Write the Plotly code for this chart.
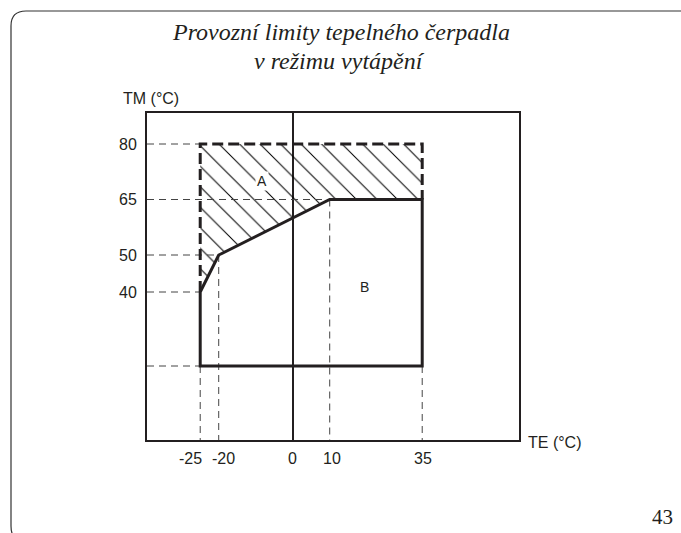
import plotly.graph_objects as go

# ---------------- data ----------------
title_lines = ["Provozní limity tepelného čerpadla", "v režimu vytápění"]
x_title = "TE (°C)"
y_title = "TM (°C)"
page_number = "43"

# envelope B (operating limit, solid)
b_te = [-25, -25, 35, 35, 10, -20, -25]
b_tm = [40, 20, 20, 65, 65, 50, 40]
# extended limit A (dashed)
a_te = [-25, -25, 35, 35]
a_tm = [40, 80, 80, 65]
# hatched zone A polygon
h_te = [-25, -25, 35, 35, 10, -20, -25]
h_tm = [40, 80, 80, 65, 65, 50, 40]

# guide points (horizontal guides to the TM axis, vertical guides to the TE axis)
hguide_te = [-25, 10, -20, -25, -25]
hguide_tm = [80, 65, 50, 40, 20]
vguide_te = [-25, -20, 10, 35]
vguide_tm = [20, 50, 65, 20]

y_ticks = [40, 50, 65, 80]
x_ticks = [-25, -20, 0, 10, 35]
x_tick_labels = ["-25", "-20", "0", "10", "35"]

zone_labels = ["A", "B"]
zone_te = [-8.3, 19.3]
zone_tm = [69.9, 41.3]

# ---------------- layout constants ----------------
W, H = 681, 533
L, R, T, B = 147, 162, 113, 93
X_RANGE = [-39.38, 61.16]
Y_RANGE = [0.0, 88.38]
INK = "#231f20"
SANS = "Liberation Sans, Arial, sans-serif"
SERIF = "Liberation Serif, Times New Roman, serif"
tick_label_shift = {"-25": -10, "-20": 5, "0": 0, "10": 2, "35": 1}


def px(xp):
    return (xp - L) / (W - L - R)


def py(yp):
    return (H - B - yp) / (H - B - T)


fig = go.Figure()

# hatched zone
fig.add_trace(go.Scatter(
    x=h_te, y=h_tm, mode="lines", fill="toself", line=dict(width=0),
    fillcolor="rgba(0,0,0,0)",
    fillpattern=dict(shape="\\", size=14.5, solidity=0.07, fgcolor="#000000",
                     fgopacity=1, bgcolor="rgba(0,0,0,0)"),
    hoverinfo="skip", showlegend=False))

# thin dashed guides
for te, tm in zip(hguide_te, hguide_tm):
    fig.add_trace(go.Scatter(x=[X_RANGE[0], te], y=[tm, tm], mode="lines",
                             line=dict(color="#444", width=1, dash="7px,5px"),
                             hoverinfo="skip", showlegend=False))
for te, tm in zip(vguide_te, vguide_tm):
    fig.add_trace(go.Scatter(x=[te, te], y=[tm, Y_RANGE[0]], mode="lines",
                             line=dict(color="#444", width=1, dash="7px,5px"),
                             hoverinfo="skip", showlegend=False))

# zone A dashed boundary
fig.add_trace(go.Scatter(x=a_te, y=a_tm, mode="lines",
                         line=dict(color=INK, width=3, dash="11px,5px"),
                         hoverinfo="skip", showlegend=False))
# zone B solid boundary
fig.add_trace(go.Scatter(x=b_te, y=b_tm, mode="lines",
                         line=dict(color=INK, width=3),
                         hoverinfo="skip", showlegend=False))

annotations = []
# zone labels
for lab, te, tm in zip(zone_labels, zone_te, zone_tm):
    annotations.append(dict(x=te, y=tm, xref="x", yref="y", text=lab, showarrow=False,
                            font=dict(family=SANS, size=14, color=INK),
                            bgcolor="white" if lab == "A" else None, borderpad=1))
# x tick labels
for te, lab in zip(x_ticks, x_tick_labels):
    annotations.append(dict(x=te, y=py(448), xref="x", yref="paper", text=lab,
                            showarrow=False, xanchor="center", yanchor="top",
                            xshift=tick_label_shift[lab],
                            font=dict(family=SANS, size=16, color=INK)))
# axis titles
annotations.append(dict(x=px(121), y=py(99), xref="paper", yref="paper", text=y_title,
                        showarrow=False, xanchor="left", yanchor="middle",
                        font=dict(family=SANS, size=16, color=INK)))
annotations.append(dict(x=px(526), y=py(442), xref="paper", yref="paper", text=x_title,
                        showarrow=False, xanchor="left", yanchor="middle",
                        font=dict(family=SANS, size=16, color=INK)))
# title lines
annotations.append(dict(x=px(341), y=py(32), xref="paper", yref="paper",
                        text="<i>%s</i>" % title_lines[0], showarrow=False,
                        xanchor="center", yanchor="middle",
                        font=dict(family=SERIF, size=24, color=INK)))
annotations.append(dict(x=px(339), y=py(61), xref="paper", yref="paper",
                        text="<i>%s</i>" % title_lines[1], showarrow=False,
                        xanchor="center", yanchor="middle",
                        font=dict(family=SERIF, size=24, color=INK)))
# page number
annotations.append(dict(x=px(662), y=py(517), xref="paper", yref="paper", text=page_number,
                        showarrow=False, xanchor="center", yanchor="middle",
                        font=dict(family=SERIF, size=21, color=INK)))

# page frame (rounded)
frame = "M %f,%f Q %f,%f %f,%f L %f,%f Q %f,%f %f,%f L %f,%f" % (
    px(22), py(540), px(11), py(540), px(11), py(526),
    px(11), py(26), px(11), py(11), px(26), py(11),
    px(690), py(11))
shapes = [dict(type="path", path=frame, xref="paper", yref="paper",
               line=dict(color="#333", width=1.2), layer="above")]

fig.update_layout(
    width=W, height=H, margin=dict(l=L, r=R, t=T, b=B, pad=0),
    paper_bgcolor="white", plot_bgcolor="white",
    showlegend=False, annotations=annotations, shapes=shapes,
    xaxis=dict(range=X_RANGE, showgrid=False, zeroline=True, zerolinecolor=INK,
               zerolinewidth=1.6, showline=True, mirror=True, linecolor=INK,
               linewidth=2, tickvals=x_ticks, showticklabels=False, ticks=""),
    yaxis=dict(range=Y_RANGE, showgrid=False, zeroline=False, showline=True,
               mirror=True, linecolor=INK, linewidth=2, tickvals=y_ticks,
               ticks="", ticklabelstandoff=5,
               tickfont=dict(family=SANS, size=16, color=INK)),
)

fig.write_html("out.html", config={"displayModeBar": False},
               post_script="document.body.style.margin='0';document.body.style.overflow='hidden';")
